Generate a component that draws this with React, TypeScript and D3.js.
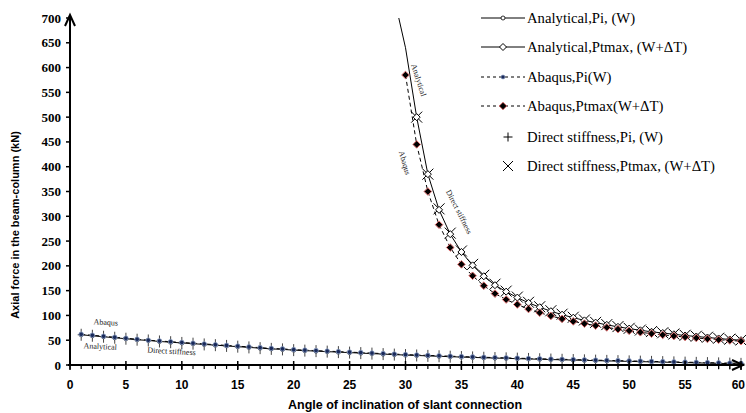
import React from "react";
import * as d3 from "d3";

const angles: number[] = d3.range(1, 61);
const analyticalPi: number[] = [61, 59, 57, 55, 53, 51, 49.5, 47.5, 46, 44.5, 43, 41.5, 40, 38.5, 37, 35.5, 34, 32.5, 31.5, 30, 29, 28, 27, 26, 25, 24, 23, 22, 21, 20, 19.2, 18.4, 17.6, 16.8, 16, 15.3, 14.6, 14, 13.4, 12.8, 12.2, 11.6, 11, 10.5, 10, 9.4, 8.8, 8.3, 7.8, 7.3, 6.8, 6.3, 5.8, 5.3, 4.8, 4.3, 3.8, 3.3, 2.8, 2.3];
const abaqusPi: number[] = [62, 60, 58, 56, 54, 52, 50, 48.5, 47, 45.5, 44, 42.5, 41, 39.5, 38, 36.5, 35, 33.5, 32.5, 31, 30, 29, 28, 27, 26, 25, 24, 23, 22, 21, 20.2, 19.4, 18.6, 17.8, 17, 16.3, 15.6, 15, 14.4, 13.8, 13.2, 12.6, 12, 11.5, 11, 10.4, 9.8, 9.3, 8.8, 8.3, 7.8, 7.3, 6.8, 6.3, 5.8, 5.3, 4.8, 4.3, 3.8, 3.3];
const directPi: number[] = [61, 59, 57, 55, 53, 51, 49.5, 47.5, 46, 44.5, 43, 41.5, 40, 38.5, 37, 35.5, 34, 32.5, 31.5, 30, 29, 28, 27, 26, 25, 24, 23, 22, 21, 20, 19.2, 18.4, 17.6, 16.8, 16, 15.3, 14.6, 14, 13.4, 12.8, 12.2, 11.6, 11, 10.5, 10, 9.4, 8.8, 8.3, 7.8, 7.3, 6.8, 6.3, 5.8, 5.3, 4.8, 4.3, 3.8, 3.3, 2.8, 2.3];

const anglesT: number[] = [29.4, 30, 31, 32, 33, 34, 35, 36, 37, 38, 39, 40, 41, 42, 43, 44, 45, 46, 47, 48, 49, 50, 51, 52, 53, 54, 55, 56, 57, 58, 59, 60];
const analyticalPt: number[] = [700, 640, 500, 385, 313, 264, 228, 201, 179, 161, 148, 136, 125.5, 116.5, 108.5, 101.5, 95.5, 90, 85.5, 81, 77, 73.5, 70, 67, 64.5, 62, 59.5, 57.5, 55.5, 53.5, 51.5, 50];
const anglesAbq: number[] = [30, 31, 32, 33, 34, 35, 36, 37, 38, 39, 40, 41, 42, 43, 44, 45, 46, 47, 48, 49, 50, 51, 52, 53, 54, 55, 56, 57, 58, 59, 60];
const abaqusPt: number[] = [585, 445, 350, 283, 237, 203, 180, 160, 144, 132, 122, 113, 105.5, 99, 93, 88, 83.5, 79.5, 75.8, 72.3, 69, 66, 63.3, 60.8, 58.5, 56.4, 54.5, 52.7, 51, 49.5, 48];
const anglesDs: number[] = [31, 32, 33, 34, 35, 36, 37, 38, 39, 40, 41, 42, 43, 44, 45, 46, 47, 48, 49, 50, 51, 52, 53, 54, 55, 56, 57, 58, 59, 60];
const directPt: number[] = [500, 385, 315, 266, 230, 203, 181, 163, 149, 137, 126.5, 117.5, 109.5, 102.5, 96.3, 90.8, 86, 81.5, 77.5, 74, 70.5, 67.5, 65, 62.5, 60, 58, 56, 54, 52, 50.5];

const yTicks: number[] = d3.range(0, 701, 50);
const xTicks: number[] = d3.range(0, 61, 5);
const xMinor: number[] = d3.range(0, 61, 1);

const legendItems: string[] = [
  "Analytical,Pi, (W)",
  "Analytical,Ptmax, (W+\u0394T)",
  "Abaqus,Pi(W)",
  "Abaqus,Ptmax(W+\u0394T)",
  "Direct stiffness,Pi, (W)",
  "Direct stiffness,Ptmax, (W+\u0394T)",
];

const X0 = 70, X1 = 741, Y0 = 365, Y1 = 18;

function Plus({ x, y, hw = 4, hh = 6, color = "#333" }: any) {
  return (
    <g stroke={color} strokeWidth={1}>
      <line x1={x - hw} x2={x + hw} y1={y} y2={y} />
      <line x1={x} x2={x} y1={y - hh} y2={y + hh} />
    </g>
  );
}
function Cross({ x, y, s = 6 }: any) {
  return (
    <g stroke="#000" strokeWidth={1}>
      <line x1={x - s} x2={x + s} y1={y - s} y2={y + s} />
      <line x1={x - s} x2={x + s} y1={y + s} y2={y - s} />
    </g>
  );
}
function Diamond({ x, y, s = 4, fill = "#fff", stroke = "#000" }: any) {
  return <path d={`M${x},${y - s}L${x + s},${y}L${x},${y + s}L${x - s},${y}Z`} fill={fill} stroke={stroke} strokeWidth={1} />;
}

export default function App() {
  const x = d3.scaleLinear().domain([0, 60]).range([X0, X1]);
  const y = d3.scaleLinear().domain([0, 700]).range([Y0, Y1]);
  const line = (xs: number[], ys: number[]) =>
    d3.line<number>().x((_, i) => x(xs[i])).y((d) => y(d))(ys) || "";

  const sans = "'Liberation Sans', Arial, sans-serif";
  const serif = "'Liberation Serif', 'Times New Roman', serif";

  return (
    <svg width={746} height={413} style={{ position: "absolute", left: 0, top: 0, background: "#fff" }}>
      <defs>
        <clipPath id="plot">
          <rect x={X0} y={Y1} width={X1 - X0 + 5} height={Y0 - Y1 + 5} />
        </clipPath>
      </defs>
      <rect width={746} height={413} fill="#fff" />

      {/* series */}
      <g clipPath="url(#plot)">
        <path d={line(angles, analyticalPi)} fill="none" stroke="#000" strokeWidth={1} />
        <path d={line(angles, abaqusPi)} fill="none" stroke="#000" strokeWidth={1} strokeDasharray="4,3" />
        <path d={line(anglesT, analyticalPt)} fill="none" stroke="#000" strokeWidth={1} />
        <path d={line(anglesAbq, abaqusPt)} fill="none" stroke="#000" strokeWidth={1} strokeDasharray="4,3" />

        {angles.map((a, i) => (
          <Plus key={"dp" + i} x={x(a)} y={y(directPi[i])} hw={3.5} hh={6} color="#444" />
        ))}
        {angles.map((a, i) => (
          <circle key={"ap" + i} cx={x(a)} cy={y(analyticalPi[i])} r={2} fill="#fff" stroke="#000" strokeWidth={0.8} />
        ))}
        {angles.map((a, i) => (
          <circle key={"bp" + i} cx={x(a)} cy={y(abaqusPi[i])} r={2.3} fill="#1a2a5a" stroke="#8fa3c8" strokeWidth={0.8} />
        ))}

        {anglesDs.map((a, i) => (
          <Cross key={"dt" + i} x={x(a)} y={y(directPt[i])} s={5.5} />
        ))}
        {anglesT.slice(2).map((a, i) => (
          <Diamond key={"at" + i} x={x(a)} y={y(analyticalPt[i + 2])} s={3.5} />
        ))}
        {anglesAbq.map((a, i) => (
          <Diamond key={"bt" + i} x={x(a)} y={y(abaqusPt[i])} s={3.8} fill="#000" stroke="#e07070" />
        ))}
      </g>

      {/* curve labels */}
      <g fontFamily={serif} fontSize={8} fill="#222">
        <text transform={`translate(${x(30.5)},${y(605)}) rotate(72)`}>Analytical</text>
        <text transform={`translate(${x(29.4)},${y(430)}) rotate(74)`}>Abaqus</text>
        <text transform={`translate(${x(33.6)},${y(350)}) rotate(63)`}>Direct stiffness</text>
        <text transform={`translate(${x(2.1)},${y(82)}) rotate(3)`}>Abaqus</text>
        <text transform={`translate(${x(1.2)},${y(34)}) rotate(3)`}>Analytical</text>
        <text transform={`translate(${x(6.9)},${y(25)}) rotate(3)`}>Direct stiffness</text>
      </g>

      {/* y axis */}
      <line x1={X0} x2={X0} y1={Y0 + 1} y2={Y1 - 3} stroke="#000" strokeWidth={2} />
      <polyline points={`${X0 - 5},${Y1 + 8} ${X0},${Y1 - 3} ${X0 + 5},${Y1 + 8}`} fill="none" stroke="#000" strokeWidth={2} />
      {yTicks.map((t) => (
        <g key={"yt" + t}>
          <line x1={X0 - 4} x2={X0} y1={y(t)} y2={y(t)} stroke="#000" strokeWidth={1.5} />
          <text x={X0 - 9} y={y(t)} dy="0.35em" textAnchor="end" fontFamily={serif} fontWeight="bold" fontSize={13} fill="#000">
            {t}
          </text>
        </g>
      ))}

      {/* x axis */}
      <line x1={X0 - 2} x2={X1 + 3} y1={Y0} y2={Y0} stroke="#000" strokeWidth={2} />
      <polyline points={`${X1 - 9},${Y0 - 5} ${X1 + 2},${Y0} ${X1 - 9},${Y0 + 5}`} fill="none" stroke="#000" strokeWidth={2} />
      {xMinor.map((t) => (
        <line key={"xm" + t} x1={x(t)} x2={x(t)} y1={Y0} y2={Y0 + 4} stroke="#000" strokeWidth={1.2} />
      ))}
      {xTicks.map((t) => (
        <g key={"xt" + t}>
          <line x1={x(t)} x2={x(t)} y1={Y0 - 4} y2={Y0 + 5} stroke="#000" strokeWidth={1.5} />
          <text x={t === 60 ? 745 : x(t)} y={Y0 + 24} textAnchor={t === 60 ? "end" : "middle"} fontFamily={sans} fontWeight="bold" fontSize={12} fill="#000">
            {t}
          </text>
        </g>
      ))}

      {/* axis titles */}
      <text x={405} y={409} textAnchor="middle" fontFamily={sans} fontWeight="bold" fontSize={12.5} fill="#000">
        Angle of inclination of slant connection
      </text>
      <text transform={`translate(19,225) rotate(-90)`} textAnchor="middle" fontFamily={sans} fontWeight="bold" fontSize={11} fill="#000">
        Axial force in the beam-column (kN)
      </text>

      {/* legend */}
      <g fontFamily={serif} fontSize={14.7} fill="#000">
        {legendItems.map((label, i) => {
          const ly = [18, 47, 77, 106, 137, 166][i];
          const lx0 = 481, lx1 = 525, cx = 503;
          return (
            <g key={"lg" + i}>
              {i < 2 && <line x1={lx0} x2={lx1} y1={ly} y2={ly} stroke="#000" strokeWidth={1} />}
              {(i === 2 || i === 3) && <line x1={lx0} x2={lx1} y1={ly} y2={ly} stroke="#000" strokeWidth={1} strokeDasharray="3,3" />}
              {i === 0 && <circle cx={cx} cy={ly} r={2} fill="#fff" stroke="#000" strokeWidth={0.8} />}
              {i === 1 && <Diamond x={cx} y={ly} s={3.5} />}
              {i === 2 && <circle cx={cx} cy={ly} r={2} fill="#1a2a5a" stroke="#8fa3c8" strokeWidth={0.6} />}
              {i === 3 && <Diamond x={cx} y={ly} s={3.8} fill="#000" stroke="#e07070" />}
              {i === 4 && <Plus x={508} y={ly} hw={4.5} hh={4.5} color="#000" />}
              {i === 5 && <Cross x={508} y={ly} s={5} />}
              <text x={527} y={ly} dy="0.35em">{label}</text>
            </g>
          );
        })}
      </g>
    </svg>
  );
}
